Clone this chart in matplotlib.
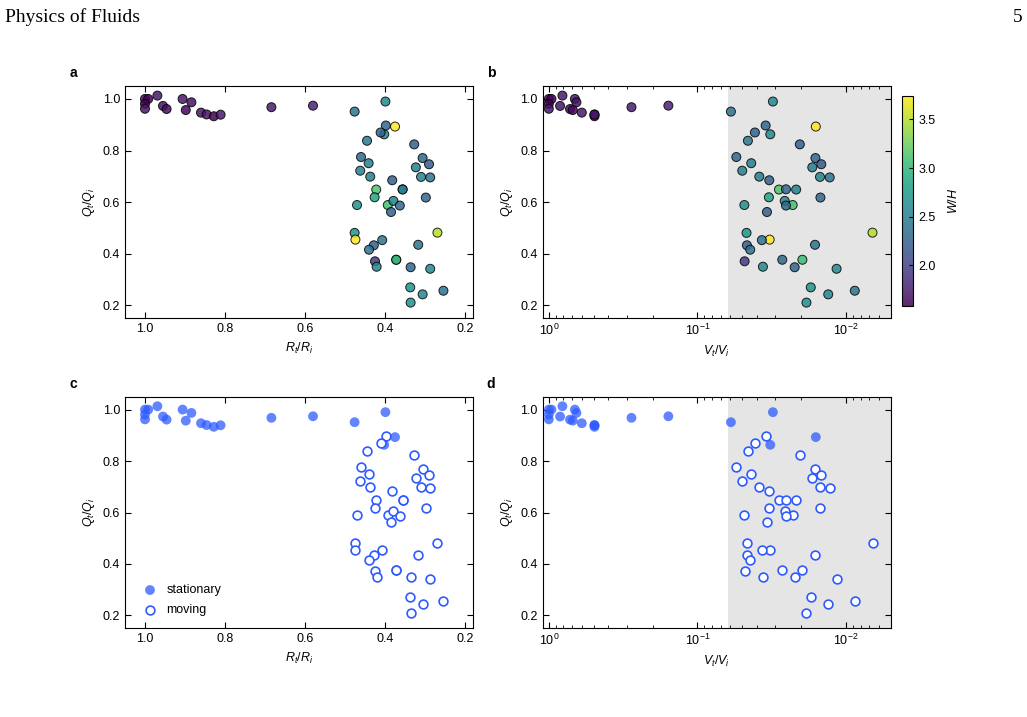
import matplotlib
matplotlib.use("Agg")
import matplotlib.pyplot as plt
import numpy as np

plt.rcParams['font.family'] = ['Liberation Sans', 'DejaVu Sans']
plt.rcParams['mathtext.fontset'] = 'custom'
plt.rcParams['mathtext.rm'] = 'Liberation Sans'
plt.rcParams['mathtext.it'] = 'Liberation Sans:italic'
plt.rcParams['font.size'] = 9

# stationary outlets
stat_R = [1.000, 0.992, 1.000, 1.000, 0.969, 0.955, 0.946, 0.906, 0.884, 0.898,
          0.860, 0.846, 0.828, 0.811, 0.684, 0.580, 0.476, 0.399, 0.375, 0.402]
stat_V = [1.00, 0.96, 1.00, 1.00, 0.81, 0.84, 0.72, 0.668, 0.652, 0.69,
          0.60, 0.493, 0.493, 0.493, 0.278, 0.157, 0.0596, 0.0311, 0.0160, 0.0324]
stat_Q = [1.000, 1.000, 0.981, 0.962, 1.013, 0.973, 0.961, 1.000, 0.987, 0.957,
          0.947, 0.940, 0.933, 0.939, 0.968, 0.974, 0.951, 0.990, 0.893, 0.863]
stat_WH = [1.65, 1.60, 1.58, 1.70, 1.72, 1.70, 1.65, 1.72, 1.68, 1.62,
           1.72, 1.70, 1.60, 1.72, 1.75, 1.78, 2.40, 2.60, 3.75, 2.60]

# moving outlets
mov_R = [0.398, 0.411, 0.445, 0.327, 0.460, 0.306, 0.441, 0.290, 0.323, 0.462,
         0.437, 0.310, 0.287, 0.382, 0.422, 0.356, 0.356, 0.426, 0.298, 0.470,
         0.393, 0.379, 0.363, 0.385, 0.476, 0.474, 0.269, 0.407, 0.428, 0.317,
         0.440, 0.425, 0.421, 0.372, 0.372, 0.336, 0.287, 0.337, 0.306, 0.254,
         0.336]
mov_V = [0.0348, 0.0411, 0.0458, 0.0205, 0.0548, 0.0161, 0.0435, 0.0147, 0.0169, 0.0500,
         0.0384, 0.0150, 0.0129, 0.0329, 0.0283, 0.0254, 0.0217, 0.0331, 0.0149, 0.0484,
         0.0229, 0.0259, 0.0254, 0.0341, 0.0468, 0.0327, 0.00665, 0.0369, 0.0465, 0.0162,
         0.0442, 0.0482, 0.0363, 0.0269, 0.0197, 0.0222, 0.0116, 0.0173, 0.0132, 0.00875,
         0.0185]
mov_Q = [0.897, 0.870, 0.838, 0.824, 0.775, 0.771, 0.751, 0.747, 0.735, 0.722,
         0.699, 0.698, 0.696, 0.685, 0.649, 0.650, 0.649, 0.619, 0.618, 0.589,
         0.589, 0.605, 0.587, 0.562, 0.481, 0.455, 0.482, 0.453, 0.433, 0.435,
         0.416, 0.371, 0.350, 0.377, 0.377, 0.348, 0.342, 0.270, 0.243, 0.257,
         0.211]
mov_WH = [2.30, 2.25, 2.45, 2.25, 2.30, 2.30, 2.50, 2.20, 2.50, 2.50,
          2.50, 2.55, 2.40, 2.25, 3.15, 2.30, 2.50, 2.85, 2.30, 2.65,
          3.10, 2.55, 2.30, 2.25, 2.70, 3.75, 3.50, 2.40, 2.25, 2.40,
          2.40, 1.95, 2.60, 2.30, 3.05, 2.30, 2.60, 2.70, 2.60, 2.40,
          2.65]

all_R = stat_R + mov_R
all_V = stat_V + mov_V
all_Q = stat_Q + mov_Q
all_WH = stat_WH + mov_WH

wh_min, wh_max = 1.575, 3.745
v_shade = 0.062
blue = '#2e5bff'

fig = plt.figure(figsize=(10.27, 7.17), dpi=100)
ax_a = fig.add_axes([0.1217, 0.556, 0.3389, 0.324])
ax_b = fig.add_axes([0.5284, 0.556, 0.3391, 0.324])
ax_c = fig.add_axes([0.1217, 0.1237, 0.3389, 0.323])
ax_d = fig.add_axes([0.5284, 0.1237, 0.3391, 0.323])
cax = fig.add_axes([0.8786, 0.5728, 0.0107, 0.2937])

for ax in (ax_b, ax_d):
    ax.set_xscale('log')
    ax.set_xlim(1.1, 0.005)
    ax.axvspan(v_shade, 0.005, color='#e5e5e5', lw=0, zorder=0)
    ax.set_xlabel('$V_t/V_i$')
for ax in (ax_a, ax_c):
    ax.set_xlim(1.05, 0.18)
    ax.set_xticks([1.0, 0.8, 0.6, 0.4, 0.2])
    ax.set_xlabel('$R_t/R_i$')
for ax in (ax_a, ax_b, ax_c, ax_d):
    ax.set_ylim(0.15, 1.05)
    ax.set_yticks([0.2, 0.4, 0.6, 0.8, 1.0])
    ax.set_ylabel('$Q_t/Q_i$')
    ax.tick_params(direction='in', top=True, right=True, which='both', labelsize=9)
    ax.tick_params(which='major', length=4)
    ax.tick_params(which='minor', length=2)

sc = ax_a.scatter(all_R, all_Q, c=all_WH, cmap='viridis', vmin=wh_min, vmax=wh_max,
                  s=42, alpha=0.85, edgecolors='black', linewidths=0.7, zorder=3)
ax_b.scatter(all_V, all_Q, c=all_WH, cmap='viridis', vmin=wh_min, vmax=wh_max,
             s=42, alpha=0.85, edgecolors='black', linewidths=0.7, zorder=3)

cb = fig.colorbar(sc, cax=cax)
cb.set_ticks([2.0, 2.5, 3.0, 3.5])
cb.ax.tick_params(direction='in', labelsize=9, length=3)
cb.set_label('$W/H$', fontsize=9, labelpad=8)
cb.outline.set_linewidth(0.8)

for ax, xs, xm in ((ax_c, stat_R, mov_R), (ax_d, stat_V, mov_V)):
    ax.scatter(xs, stat_Q, s=50, color=blue, alpha=0.75, edgecolors='none',
               zorder=3, label='stationary')
    ax.scatter(xm, mov_Q, s=40, facecolors='white', edgecolors=blue,
               linewidths=1.2, zorder=3, label='moving')
ax_c.legend(loc='lower left', frameon=False, fontsize=9, handletextpad=0.3,
            borderaxespad=0.6, labelspacing=0.6)

for label, x, y in (('a', 0.068, 0.892), ('b', 0.474, 0.892),
                    ('c', 0.068, 0.459), ('d', 0.474, 0.459)):
    fig.text(x, y, label, fontsize=10, fontweight='bold')

fig.text(0.005, 0.970, 'Physics of Fluids', family='Liberation Serif', fontsize=14)
fig.text(0.986, 0.970, '5', family='Liberation Serif', fontsize=14)

fig.savefig('out.png', dpi=100)
